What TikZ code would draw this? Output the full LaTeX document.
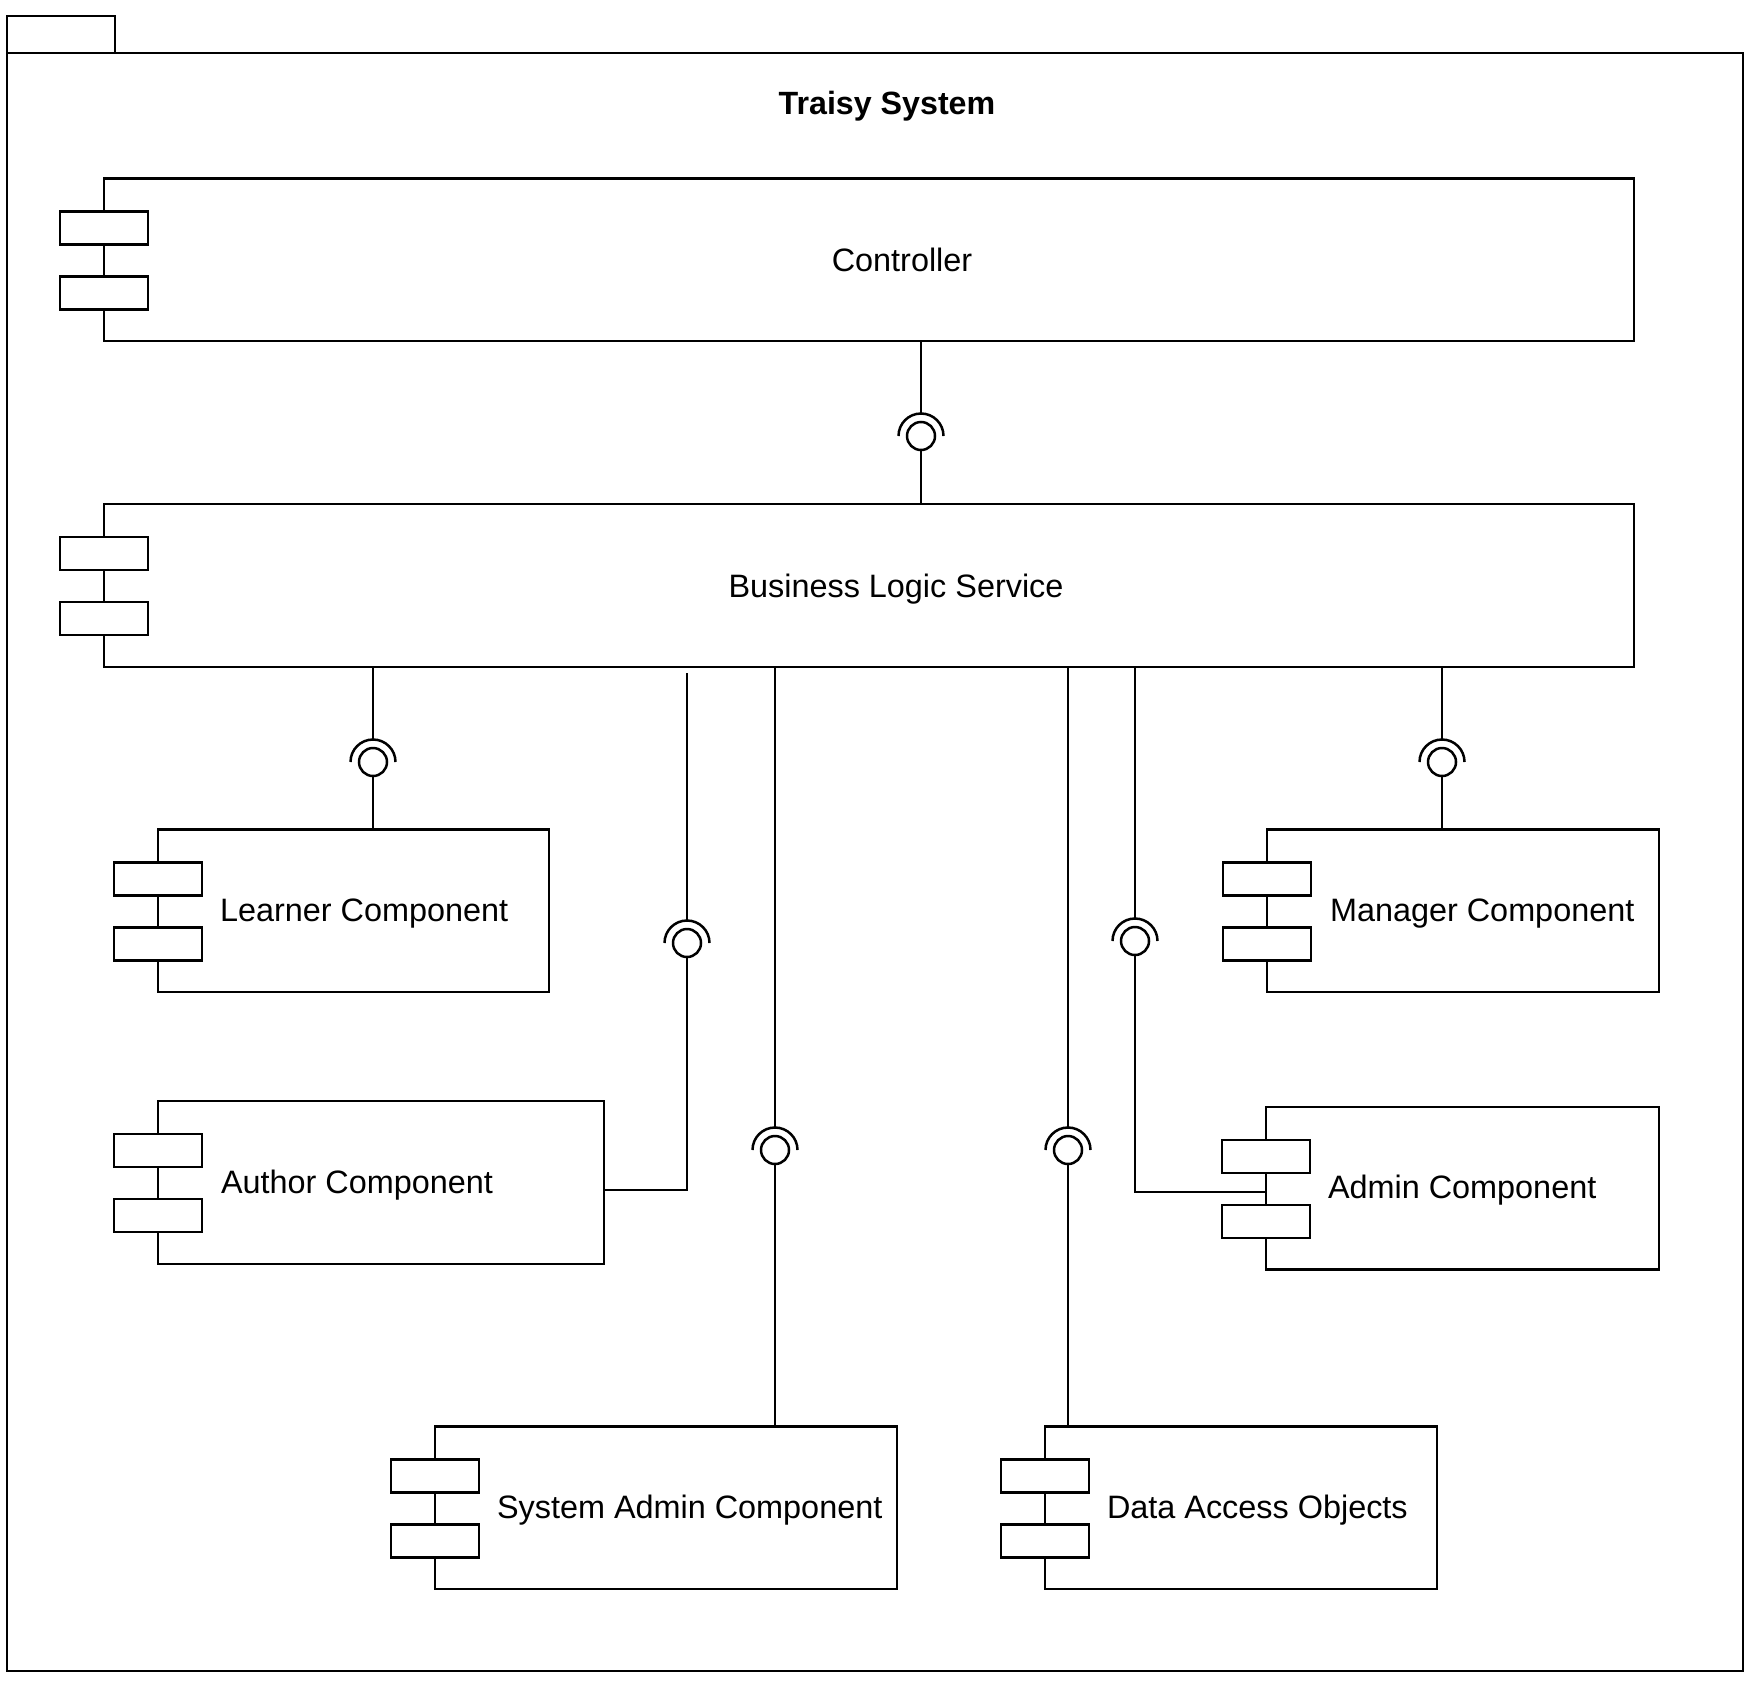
\documentclass[tikz,border=0pt]{standalone}
\usepackage{fontspec}
\setmainfont{Liberation Sans}
\usetikzlibrary{calc,fit}

% two port boxes straddling the left edge of a component
\newcommand\compports[1]{%
  \draw[portbox] ($(#1.north west)+(-43,34)$) rectangle ($(#1.north west)+(45,67)$);
  \draw[portbox] ($(#1.north west)+(-43,99)$) rectangle ($(#1.north west)+(45,132)$);}

% ball-and-socket interface: ball node #1 at (#2,#3), socket top at #1-s
\newcommand\lolli[3]{%
  \node[ball] (#1) at (#2,#3) {};
  \coordinate (#1-s) at (#2,#3-22.5);
  \draw ($(#1.center)+(22.5,0)$) arc[start angle=0, end angle=180, radius=11.25pt];}

\begin{document}
\begin{tikzpicture}[x=0.5pt,y=-0.5pt,line width=1.25pt,
  box/.style={draw, inner sep=0pt},
  portbox/.style={draw, fill=white},
  ball/.style={circle, draw, fill=white, minimum size=14pt, inner sep=0pt},
  lbl/.style={inner sep=0pt, font=\fontsize{16.2pt}{19pt}\selectfont},
  ttl/.style={inner sep=0pt, font=\fontsize{16.1pt}{19pt}\selectfont\bfseries}]
\useasboundingbox (0,0) rectangle (1760,1686);

% package frame
\node[box, fit={(7,53) (1743,1671)}] (pkg) {};
\node[box, fit={(7,16) (115,53)}] (pkgtab) {};
\node[ttl, anchor=base] (title) at (887,115) {Traisy System};

% components
\node[box, fit={(104,178.5) (1634,341)}] (ctrl) {};
\node[box, fit={(104,504) (1634,667)}] (bls) {};
\node[box, fit={(158,829.5) (549,992)}] (learner) {};
\node[box, fit={(158,1101) (604,1264)}] (author) {};
\node[box, fit={(1267,829.5) (1659,992)}] (manager) {};
\node[box, fit={(1266,1107) (1659,1269.5)}] (admin) {};
\node[box, fit={(435,1426.5) (897,1589)}] (sysadmin) {};
\node[box, fit={(1045,1426.5) (1437,1589)}] (dao) {};

% labels
\node[lbl, anchor=base] (ctrl-l) at ($(ctrl.center)+(33,11.5)$) {Controller};
\node[lbl, anchor=base] (bls-l) at ($(bls.center)+(27,11.5)$) {Business Logic Service};
\node[lbl, anchor=base west] (learner-l) at ($(learner.west)+(62,10.5)$) {Learner Component};
\node[lbl, anchor=base west] (author-l) at ($(author.west)+(63,10.5)$) {Author Component};
\node[lbl, anchor=base west] (manager-l) at ($(manager.west)+(63,10.5)$) {Manager Component};
\node[lbl, anchor=base west] (admin-l) at ($(admin.west)+(62,10.5)$) {Admin Component};
\node[lbl, anchor=base west] (sysadmin-l) at ($(sysadmin.west)+(62,10.5)$) {System Admin Component};
\node[lbl, anchor=base west] (dao-l) at ($(dao.west)+(62,10.5)$) {Data Access Objects};

% interfaces
\lolli{i0}{921}{436}
\lolli{i1}{373}{762}
\lolli{i2}{1442}{762}
\lolli{i3}{687}{943}
\lolli{i4}{1135}{941}
\lolli{i5}{775}{1150}
\lolli{i6}{1068}{1150}

% wires
\draw (ctrl.south -| i0) -- (i0-s);
\draw (i0.south) -- (bls.north -| i0);
\draw (bls.south -| i1) -- (i1-s);
\draw (i1.south) -- (learner.north -| i1);
\draw (bls.south -| i2) -- (i2-s);
\draw (i2.south) -- (manager.north -| i2);
\coordinate (a3) at ($(bls.south -| i3)+(0,5)$);
\draw (a3) -- (i3-s);
\draw (i3.south) |- ($(author.north east)+(0,90)$);
\draw (bls.south -| i4) -- (i4-s);
\draw (i4.south) |- ($(admin.north west)+(0,86)$);
\draw (bls.south -| i5) -- (i5-s);
\draw (i5.south) -- (sysadmin.north -| i5);
\draw (bls.south -| i6) -- (i6-s);
\draw (i6.south) -- (dao.north -| i6);

% ports on every component
\compports{ctrl}
\compports{bls}
\compports{learner}
\compports{author}
\compports{manager}
\compports{admin}
\compports{sysadmin}
\compports{dao}
\end{tikzpicture}
\end{document}
